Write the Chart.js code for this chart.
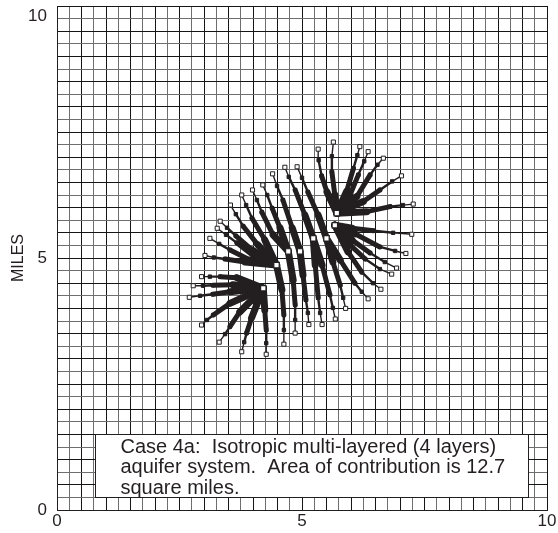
<!DOCTYPE html>
<html>
<head>
<meta charset="utf-8">
<script src="https://cdn.jsdelivr.net/npm/chart.js@4/dist/chart.umd.min.js"></script>
<style>
  html, body { margin: 0; padding: 0; background: #fff; }
</style>
</head>
<body>
<canvas id="pathChart" width="558" height="533"></canvas>
<script>
// pumping well locations, miles
const W1 = [5.71, 5.89];
const W2 = [5.67, 5.65];
const W3 = [5.23, 5.39];
const W4 = [5.50, 5.39];
const W5 = [4.96, 5.13];
const W6 = [4.72, 5.13];
const W7 = [4.48, 4.86];
const W8 = [4.21, 4.40];
const wells = [W1, W2, W3, W4, W5, W6, W7, W8];

// backward-tracked pathlines, each from its well out to the end of travel
const northFan = [
  [W1, [5.51, 6.31], [5.40, 6.63], [5.34, 6.94], [5.33, 7.16]],
  [W1, [5.67, 6.25], [5.61, 6.71], [5.61, 7.02], [5.64, 7.30]],
  [W1, [5.91, 6.32], [6.05, 6.78], [6.13, 7.04], [6.18, 7.21]],
  [W1, [5.98, 6.25], [6.15, 6.65], [6.27, 6.92], [6.35, 7.11]],
  [W1, [6.12, 6.22], [6.39, 6.65], [6.54, 6.85], [6.66, 6.98]],
  [W1, [6.25, 6.12], [6.59, 6.35], [6.84, 6.52], [7.03, 6.63]],
  [W1, [6.32, 5.92], [6.80, 6.02], [7.06, 6.05], [7.27, 6.07]]
];
const eastFan = [
  [W2, [6.02, 5.59], [6.46, 5.54], [6.86, 5.50], [7.24, 5.47]],
  [W2, [6.08, 5.48], [6.59, 5.22], [6.90, 5.14], [7.12, 5.09]],
  [W2, [6.02, 5.36], [6.39, 5.10], [6.69, 4.92], [6.93, 4.80]],
  [W2, [5.98, 5.26], [6.29, 4.98], [6.59, 4.78], [6.83, 4.68]],
  [W2, [5.94, 5.12], [6.22, 4.72], [6.45, 4.50], [6.61, 4.38]],
  [W4, [5.78, 4.96], [6.08, 4.50], [6.22, 4.33], [6.35, 4.19]]
];
const southFan = [
  [W4, [5.63, 4.92], [5.78, 4.46], [5.84, 4.21], [5.89, 4.00]],
  [W3, [5.41, 4.86], [5.57, 4.27], [5.63, 4.01], [5.68, 3.79]],
  [W3, [5.27, 4.86], [5.33, 4.21], [5.37, 3.91], [5.41, 3.68]],
  [W5, [5.02, 4.66], [5.08, 4.17], [5.12, 3.91], [5.14, 3.68]],
  [W6, [4.82, 4.56], [4.86, 4.07], [4.86, 3.77], [4.86, 3.51]],
  [W7, [4.59, 4.37], [4.63, 3.87], [4.63, 3.57], [4.63, 3.29]]
];
const bottomFan = [
  [W8, [4.24, 3.97], [4.27, 3.57], [4.27, 3.31], [4.27, 3.09]],
  [W8, [3.97, 3.81], [3.87, 3.51], [3.82, 3.33], [3.77, 3.14]],
  [W8, [3.73, 3.93], [3.53, 3.64], [3.43, 3.49], [3.31, 3.33]],
  [W8, [3.53, 4.10], [3.19, 3.87], [3.06, 3.77], [2.95, 3.67]]
];
const westFan = [
  [W8, [3.53, 4.33], [3.18, 4.28], [2.92, 4.25], [2.70, 4.22]],
  [W8, [3.59, 4.47], [3.18, 4.46], [2.98, 4.45], [2.78, 4.45]],
  [W8, [3.67, 4.61], [3.33, 4.63], [3.12, 4.63], [2.95, 4.63]],
  [W7, [3.84, 4.92], [3.43, 4.98], [3.20, 5.01], [3.02, 5.05]]
];
const northwestFan = [
  [W4, [5.33, 5.85], [5.12, 6.31], [5.00, 6.59], [4.90, 6.81]],
  [W3, [5.06, 5.85], [4.86, 6.35], [4.73, 6.61], [4.65, 6.80]],
  [W5, [4.80, 5.60], [4.61, 6.15], [4.49, 6.43], [4.40, 6.67]],
  [W6, [4.55, 5.60], [4.39, 5.99], [4.29, 6.25], [4.20, 6.45]],
  [W6, [4.41, 5.46], [4.18, 5.91], [4.08, 6.15], [3.99, 6.35]],
  [W7, [4.24, 5.36], [3.98, 5.79], [3.86, 6.05], [3.77, 6.25]],
  [W7, [4.10, 5.26], [3.80, 5.63], [3.65, 5.87], [3.54, 6.05]],
  [W7, [3.98, 5.16], [3.65, 5.44], [3.47, 5.60], [3.33, 5.73]],
  [W7, [4.04, 5.02], [3.67, 5.30], [3.45, 5.46], [3.27, 5.59]],
  [W7, [3.94, 4.96], [3.53, 5.16], [3.31, 5.28], [3.12, 5.39]]
];

const axisLabels = [0, 5, 10];
const noteLines = [
  'Case 4a:  Isotropic multi-layered (4 layers)',
  'aquifer system.  Area of contribution is 12.7',
  'square miles.'
];

const INK = '#231f20';
const FONT = 'Arial, "Liberation Sans", Helvetica, sans-serif';
// line gets thinner moving away from the well
const segWidths = [7, 5, 2.4, 1.4];

const allPaths = [...northFan, ...eastFan, ...southFan, ...bottomFan, ...westFan, ...northwestFan];

const pathSets = allPaths.map(path => ({
  data: path.map(([x, y]) => ({ x, y })),
  showLine: true,
  borderColor: INK,
  borderWidth: 1.4,
  borderCapStyle: 'round',
  borderJoinStyle: 'round',
  segment: { borderWidth: ctx => segWidths[ctx.p0DataIndex] ?? 1.4 },
  pointStyle: 'rect',
  pointRadius: ctx => ctx.dataIndex === 0 ? 0 : (ctx.dataIndex === path.length - 1 ? 2.9 : 2.4),
  pointBackgroundColor: ctx => ctx.dataIndex === path.length - 1 ? '#fff' : INK,
  pointBorderColor: INK,
  pointBorderWidth: 1
}));

const wellSet = {
  data: wells.map(([x, y]) => ({ x, y })),
  showLine: false,
  pointStyle: 'rect',
  pointRadius: 3.8,
  pointBackgroundColor: '#fff',
  pointBorderColor: INK,
  pointBorderWidth: 1.2
};

// note box in the lower part of the grid
const noteBox = { left: 0.78, right: 9.62, top: 1.51, bottom: 0.25 };

const notePlugin = {
  id: 'noteBox',
  beforeDatasetsDraw(chart) {
    const { ctx, scales: { x, y } } = chart;
    const l = Math.round(x.getPixelForValue(noteBox.left)) + 0.5;
    const r = Math.round(x.getPixelForValue(noteBox.right)) + 0.5;
    const t = Math.round(y.getPixelForValue(noteBox.top)) + 0.5;
    const b = Math.round(y.getPixelForValue(noteBox.bottom)) + 0.5;
    ctx.save();
    ctx.fillStyle = '#fff';
    ctx.fillRect(l, t, r - l, b - t);
    ctx.strokeStyle = INK;
    ctx.lineWidth = 1;
    ctx.strokeRect(l, t, r - l, b - t);
    ctx.fillStyle = INK;
    ctx.font = '20px ' + FONT;
    ctx.textBaseline = 'alphabetic';
    noteLines.forEach((line, i) => {
      ctx.fillText(line, l + 25, t + 18 + i * 20.8);
    });
    ctx.restore();
  }
};

const gridColor = ctx => (ctx.index % 2 ? '#6e6e6e' : '#151515');

new Chart(document.getElementById('pathChart'), {
  type: 'scatter',
  data: { datasets: [wellSet, ...pathSets] },
  options: {
    responsive: false,
    animation: false,
    events: [],
    layout: { padding: { top: 6, right: 11, left: 0, bottom: 0 } },
    plugins: { legend: { display: false }, tooltip: { enabled: false } },
    scales: {
      x: {
        type: 'linear',
        min: 0,
        max: 10,
        grid: { color: gridColor, lineWidth: 1, drawTicks: false },
        border: { color: INK, width: 1 },
        ticks: {
          stepSize: 0.25,
          autoSkip: false,
          maxRotation: 0,
          padding: 1,
          color: INK,
          font: { family: FONT, size: 17 },
          callback: v => (axisLabels.includes(v) ? String(v) : '')
        },
        afterFit: s => { s.height = 23; }
      },
      y: {
        type: 'linear',
        min: 0,
        max: 10,
        grid: { color: gridColor, lineWidth: 1, drawTicks: false },
        border: { color: INK, width: 1 },
        title: {
          display: true,
          text: 'MILES',
          color: INK,
          font: { family: FONT, size: 16 },
          padding: { top: 9, bottom: 0 }
        },
        ticks: {
          stepSize: 0.25,
          autoSkip: false,
          padding: 10,
          color: INK,
          font: { family: FONT, size: 17 },
          // top label sits just inside the plot
          callback: v => (v === 10 ? ['', '10'] : (axisLabels.includes(v) ? String(v) : ''))
        },
        afterFit: s => { s.width = 57; s.paddingTop = 0; s.paddingBottom = 0; }
      }
    }
  },
  plugins: [notePlugin]
});
</script>
</body>
</html>
